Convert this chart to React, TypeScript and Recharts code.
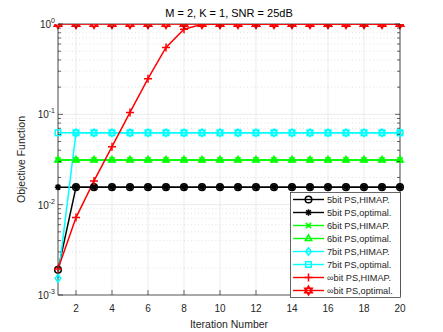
import React from 'react';
import { LineChart, Line, XAxis, YAxis, CartesianGrid, ReferenceLine, Legend } from 'recharts';

// ---------- data ----------
const iterations = [1, 2, 3, 4, 5, 6, 7, 8, 9, 10, 11, 12, 13, 14, 15, 16, 17, 18, 19, 20];
const himap5 = [0.0019, 0.015625, 0.015625, 0.015625, 0.015625, 0.015625, 0.015625, 0.015625, 0.015625, 0.015625, 0.015625, 0.015625, 0.015625, 0.015625, 0.015625, 0.015625, 0.015625, 0.015625, 0.015625, 0.015625];
const opt5 = [0.015625, 0.015625, 0.015625, 0.015625, 0.015625, 0.015625, 0.015625, 0.015625, 0.015625, 0.015625, 0.015625, 0.015625, 0.015625, 0.015625, 0.015625, 0.015625, 0.015625, 0.015625, 0.015625, 0.015625];
const himap6 = [0.03125, 0.03125, 0.03125, 0.03125, 0.03125, 0.03125, 0.03125, 0.03125, 0.03125, 0.03125, 0.03125, 0.03125, 0.03125, 0.03125, 0.03125, 0.03125, 0.03125, 0.03125, 0.03125, 0.03125];
const opt6 = [0.03125, 0.03125, 0.03125, 0.03125, 0.03125, 0.03125, 0.03125, 0.03125, 0.03125, 0.03125, 0.03125, 0.03125, 0.03125, 0.03125, 0.03125, 0.03125, 0.03125, 0.03125, 0.03125, 0.03125];
const himap7 = [0.00153, 0.0625, 0.0625, 0.0625, 0.0625, 0.0625, 0.0625, 0.0625, 0.0625, 0.0625, 0.0625, 0.0625, 0.0625, 0.0625, 0.0625, 0.0625, 0.0625, 0.0625, 0.0625, 0.0625];
const opt7 = [0.0625, 0.0625, 0.0625, 0.0625, 0.0625, 0.0625, 0.0625, 0.0625, 0.0625, 0.0625, 0.0625, 0.0625, 0.0625, 0.0625, 0.0625, 0.0625, 0.0625, 0.0625, 0.0625, 0.0625];
const himapInf = [0.00194, 0.0072, 0.0183, 0.0438, 0.105, 0.248, 0.55, 0.875, 0.99, 0.999, 1, 1, 1, 1, 1, 1, 1, 1, 1, 1];
const optInf = [1, 1, 1, 1, 1, 1, 1, 1, 1, 1, 1, 1, 1, 1, 1, 1, 1, 1, 1, 1];

const xTicks = [2, 4, 6, 8, 10, 12, 14, 16, 18, 20];
const yMajor = [0.001, 0.01, 0.1, 1];
const yMinor = [0.002, 0.003, 0.004, 0.005, 0.006, 0.007, 0.008, 0.009, 0.02, 0.03, 0.04, 0.05, 0.06, 0.07, 0.08, 0.09, 0.2, 0.3, 0.4, 0.5, 0.6, 0.7, 0.8, 0.9];
const yTicks = [...yMajor, ...yMinor].sort((a, b) => a - b);

const title = 'M = 2, K = 1, SNR = 25dB';
const xLabel = 'Iteration Number';
const yLabel = 'Objective Function';

const data = iterations.map((it, i) => ({
  it,
  h5: himap5[i],
  o5: opt5[i],
  h6: himap6[i],
  o6: opt6[i],
  h7: himap7[i],
  o7: opt7[i],
  hInf: himapInf[i],
  oInf: optInf[i],
}));

// ---------- styles ----------
const FONT = '"Liberation Sans", Arial, Helvetica, sans-serif';
const AX = '#262626';
const W = 443;
const H = 332;
const PL = 58;
const PR = 400;
const PT = 24;
const PB = 295;

const SERIES = [
  { key: 'h5', name: '5bit PS,HIMAP.', color: '#000000', shape: 'circle' },
  { key: 'o5', name: '5bit PS,optimal.', color: '#000000', shape: 'asterisk' },
  { key: 'h6', name: '6bit PS,HIMAP.', color: '#00ff00', shape: 'x' },
  { key: 'o6', name: '6bit PS,optimal.', color: '#00ff00', shape: 'triangle' },
  { key: 'h7', name: '7bit PS,HIMAP.', color: '#00ffff', shape: 'diamond' },
  { key: 'o7', name: '7bit PS,optimal.', color: '#00ffff', shape: 'square' },
  { key: 'hInf', name: '∞bit PS,HIMAP.', color: '#ff0000', shape: 'plus' },
  { key: 'oInf', name: '∞bit PS,optimal.', color: '#ff0000', shape: 'hexagram' },
];

function Marker({ shape, cx, cy, color }: { shape: string; cx: number; cy: number; color: string }) {
  const sw = 1.5;
  switch (shape) {
    case 'circle':
      return <circle cx={cx} cy={cy} r={3.3} fill="none" stroke={color} strokeWidth={sw} />;
    case 'asterisk': {
      const r = 3.2;
      const d = r * 0.72;
      return (
        <path
          d={`M${cx - r},${cy}H${cx + r}M${cx},${cy - r}V${cy + r}M${cx - d},${cy - d}L${cx + d},${cy + d}M${cx - d},${cy + d}L${cx + d},${cy - d}`}
          stroke={color}
          strokeWidth={sw}
          fill="none"
        />
      );
    }
    case 'x': {
      const d = 2.6;
      return (
        <path d={`M${cx - d},${cy - d}L${cx + d},${cy + d}M${cx - d},${cy + d}L${cx + d},${cy - d}`} stroke={color} strokeWidth={sw} fill="none" />
      );
    }
    case 'triangle':
      return (
        <polygon
          points={`${cx},${cy - 3.6} ${cx + 3.2},${cy + 2.1} ${cx - 3.2},${cy + 2.1}`}
          fill="none"
          stroke={color}
          strokeWidth={sw}
        />
      );
    case 'diamond':
      return (
        <polygon
          points={`${cx},${cy - 3.8} ${cx + 2.8},${cy} ${cx},${cy + 3.8} ${cx - 2.8},${cy}`}
          fill="none"
          stroke={color}
          strokeWidth={sw}
        />
      );
    case 'square':
      return <rect x={cx - 2.8} y={cy - 2.8} width={5.6} height={5.6} fill="none" stroke={color} strokeWidth={sw} />;
    case 'plus': {
      const r = 4;
      return <path d={`M${cx - r},${cy}H${cx + r}M${cx},${cy - r}V${cy + r}`} stroke={color} strokeWidth={sw} fill="none" />;
    }
    case 'hexagram': {
      const r = 4.4;
      const pts = (off: number) =>
        [0, 1, 2]
          .map((k) => {
            const a = ((off + k * 120 - 90) * Math.PI) / 180;
            return `${cx + r * Math.cos(a)},${cy + r * Math.sin(a)}`;
          })
          .join(' ');
      return (
        <g>
          <polygon points={pts(0)} fill="none" stroke={color} strokeWidth={sw} />
          <polygon points={pts(60)} fill="none" stroke={color} strokeWidth={sw} />
        </g>
      );
    }
    default:
      return null;
  }
}

const XTick = (props: any) => {
  const { x, payload } = props;
  return (
    <g>
      <line x1={x} x2={x} y1={PB} y2={PB - 5} stroke={AX} strokeWidth={0.7} />
      <line x1={x} x2={x} y1={PT} y2={PT + 5} stroke={AX} strokeWidth={0.7} />
      <text x={x} y={312} textAnchor="middle" fontSize={10} fontFamily={FONT} fill={AX}>
        {payload.value}
      </text>
    </g>
  );
};

const YTick = (props: any) => {
  const { y, payload } = props;
  const v = payload.value;
  const major = yMajor.some((m) => Math.abs(m - v) < 1e-12);
  const len = major ? 5 : 3;
  const exp = Math.round(Math.log10(v));
  return (
    <g>
      <line x1={PL} x2={PL + len} y1={y} y2={y} stroke={AX} strokeWidth={0.7} />
      <line x1={PR} x2={PR - len} y1={y} y2={y} stroke={AX} strokeWidth={0.7} />
      {major && (
        <text x={55} y={y + 4} textAnchor="end" fontSize={10} fontFamily={FONT} fill={AX}>
          10
          <tspan dy={-5} fontSize={7}>
            {exp}
          </tspan>
        </text>
      )}
    </g>
  );
};

const LegendBox = () => (
  <svg width={111} height={106} style={{ display: 'block' }}>
    <rect x={0.5} y={0.5} width={110} height={105} fill="#ffffff" stroke={AX} strokeWidth={0.7} />
    {SERIES.map((s, i) => {
      const y = 7.5 + i * 13;
      return (
        <g key={s.key}>
          <line x1={3} x2={34} y1={y} y2={y} stroke={s.color} strokeWidth={1.4} />
          <Marker shape={s.shape} cx={18.5} cy={y} color={s.color} />
          <text x={37} y={y + 3.3} fontSize={9.2} fontFamily={FONT} fill={AX}>
            {s.name}
          </text>
        </g>
      );
    })}
  </svg>
);

export default function App() {
  return (
    <div style={{ position: 'absolute', left: 0, top: 0, width: W, height: H, background: '#fff' }}>
      <LineChart width={W} height={H} data={data} margin={{ top: PT, right: W - PR, bottom: 0, left: 0 }}>
        <CartesianGrid horizontal={false} vertical stroke="#e6e6e6" strokeWidth={0.8} />
        {yMinor.map((v) => (
          <ReferenceLine key={`mn${v}`} y={v} stroke="#dadada" strokeWidth={0.8} strokeDasharray="1 2.5" />
        ))}
        {[0.01, 0.1].map((v) => (
          <ReferenceLine key={`mj${v}`} y={v} stroke="#e6e6e6" strokeWidth={0.8} />
        ))}
        <ReferenceLine x={20} stroke={AX} strokeWidth={0.8} />
        <ReferenceLine y={1} stroke={AX} strokeWidth={0.8} />
        <XAxis
          dataKey="it"
          type="number"
          domain={[1, 20]}
          ticks={xTicks}
          interval={0}
          height={H - PB}
          tick={<XTick />}
          tickLine={false}
          axisLine={{ stroke: AX, strokeWidth: 0.8 }}
          label={{
            content: () => (
              <text x={(PL + PR) / 2} y={328} textAnchor="middle" fontSize={10.5} fontFamily={FONT} fill={AX}>
                {xLabel}
              </text>
            ),
          }}
        />
        <YAxis
          type="number"
          scale="log"
          domain={[0.001, 1]}
          allowDataOverflow
          ticks={yTicks}
          interval={0}
          width={PL}
          tick={<YTick />}
          tickLine={false}
          axisLine={{ stroke: AX, strokeWidth: 0.8 }}
          label={{
            content: () => (
              <g>
                <text
                  x={0}
                  y={0}
                  transform={`translate(25, ${(PT + PB) / 2}) rotate(-90)`}
                  textAnchor="middle"
                  fontSize={10.5}
                  fontFamily={FONT}
                  fill={AX}
                >
                  {yLabel}
                </text>
                <text x={(PL + PR) / 2} y={17} textAnchor="middle" fontSize={11} fontFamily={FONT} fill="#000">
                  {title}
                </text>
              </g>
            ),
          }}
        />
        {SERIES.map((s) => (
          <Line
            key={s.key}
            dataKey={s.key}
            name={s.name}
            stroke={s.color}
            strokeWidth={1.5}
            isAnimationActive={false}
            dot={(p: any) => <Marker key={`${s.key}-${p.index}`} shape={s.shape} cx={p.cx} cy={p.cy} color={s.color} />}
            activeDot={false}
          />
        ))}
        <Legend
          layout="vertical"
          align="center"
          verticalAlign="middle"
          content={() => <LegendBox />}
          wrapperStyle={{ position: 'absolute', left: 290, top: 192, width: 111, height: 106 }}
        />
      </LineChart>
    </div>
  );
}
